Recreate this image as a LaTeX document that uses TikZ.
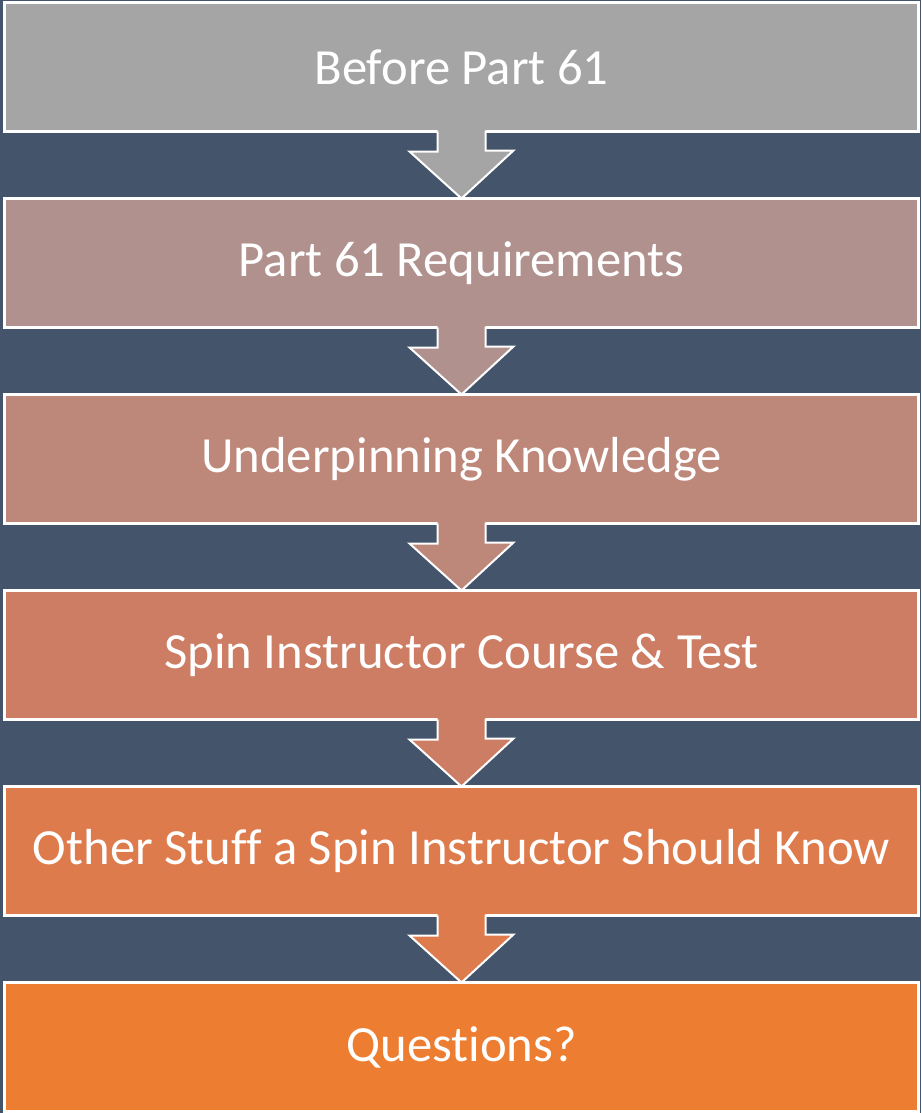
\documentclass[tikz,border=0pt]{standalone}
\usepackage{fontspec}
\setmainfont{Carlito}[Ligatures=NoCommon]

\definecolor{slate}{HTML}{44546A}
\definecolor{stage1}{RGB}{165,165,165}
\definecolor{stage2}{RGB}{176,145,142}
\definecolor{stage3}{RGB}{189,135,122}
\definecolor{stage4}{RGB}{205,125,99}
\definecolor{stage5}{RGB}{222,123,77}
\definecolor{stage6}{RGB}{237,125,49}

\begin{document}
\begin{tikzpicture}[x=0.75pt, y=-0.75pt,
    stage/.style={draw=white, line width=1.9pt, outer sep=0pt,
        minimum width=685.5pt, minimum height=96.75pt,
        text=white, font=\fontsize{38}{45}\selectfont}]
    % Background
    \fill[slate] (0,0) rectangle (921,1113);
    \useasboundingbox (0,0) rectangle (921,1113);

    % Stages
    \foreach \i/\txt in {1/Before Part 61, 2/Part 61 Requirements,
        3/Underpinning Knowledge, 4/Spin Instructor Course \& Test,
        5/Other Stuff a Spin Instructor Should Know, 6/Questions?}
        \node[stage, fill=stage\i] (s\i) at (461.5, {67+196*(\i-1)}) {\txt};

    % Down arrows between stages
    \foreach \i [evaluate=\i as \j using int(\i+1)] in {1,...,5} {
        \fill[stage\i] ([shift={(-24,-2)}]s\i.south) -- ++(0,22) -- ++(-28,0)
            -- (s\j.north) -- ++(52,-48) -- ++(-28,0) -- ++(0,-22) -- cycle;
        \draw[white, line width=1.5pt] ([shift={(-24,0)}]s\i.south) -- ++(0,20)
            -- ++(-28,0) -- (s\j.north) -- ++(52,-48) -- ++(-28,0) -- ++(0,-20);
    }
\end{tikzpicture}
\end{document}
